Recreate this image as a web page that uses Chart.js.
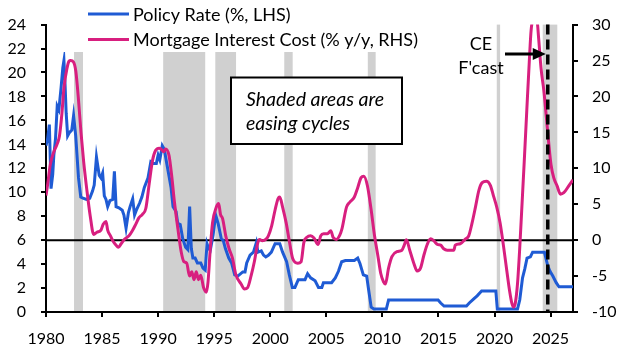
<!DOCTYPE html>
<html>
<head>
<meta charset="utf-8">
<script src="https://cdn.jsdelivr.net/npm/chart.js@4.4.1/dist/chart.umd.min.js"></script>
<style>
html,body{margin:0;padding:0;background:#fff;}
#wrap{width:636px;height:356px;}
</style>
</head>
<body>
<div id="wrap"><canvas id="c" width="636" height="356"></canvas></div>
<script>
// ---------- DATA ----------
const policyYears = [1980.0,1980.15,1980.3,1980.45,1980.6,1980.7,1980.85,1981.0,1981.15,1981.34,1981.5,1981.6,1981.7,1981.8,1981.93,1982.1,1982.3,1982.46,1982.65,1982.9,1983.1,1983.3,1983.6,1983.9,1984.15,1984.3,1984.5,1984.62,1984.75,1984.9,1985.05,1985.2,1985.35,1985.5,1985.7,1985.95,1986.1,1986.25,1986.5,1986.8,1986.95,1987.14,1987.35,1987.5,1987.73,1987.9,1988.1,1988.35,1988.55,1988.77,1989.1,1989.35,1989.6,1989.84,1990.0,1990.15,1990.37,1990.55,1990.73,1991.0,1991.15,1991.33,1991.6,1991.75,1991.97,1992.2,1992.45,1992.65,1992.81,1992.96,1993.1,1993.3,1993.5,1993.8,1994.0,1994.2,1994.36,1994.5,1994.65,1994.9,1995.13,1995.35,1995.64,1995.8,1996.0,1996.3,1996.55,1996.83,1997.1,1997.55,1997.75,1997.9,1998.2,1998.5,1998.76,1998.9,1999.2,1999.4,1999.6,1999.83,2000.1,2000.43,2000.85,2001.1,2001.46,2001.7,2001.97,2002.2,2002.5,2003.1,2003.33,2003.6,2004.0,2004.3,2004.6,2004.74,2005.47,2005.8,2006.08,2006.37,2006.7,2007.5,2007.8,2008.0,2008.3,2008.6,2008.75,2009.0,2009.25,2010.35,2010.55,2014.97,2015.2,2015.5,2017.5,2017.75,2018.15,2018.45,2018.85,2020.12,2020.25,2022.05,2022.25,2022.5,2022.7,2022.9,2023.2,2023.4,2024.45,2024.75,2024.95,2025.2,2025.5,2025.75,2027.0];
const policyRate = [13.9,14.5,15.65,10.3,11.5,13.1,14.5,17.2,16.9,18.7,20.4,21.0,19.0,16.6,14.7,15.0,15.2,16.4,14.7,11.2,9.6,9.5,9.4,9.5,10.1,10.6,12.95,12.2,11.4,11.2,11.6,9.7,9.4,8.8,9.3,9.4,11.75,8.8,8.7,8.5,8.1,7.0,8.3,8.8,9.45,8.1,8.6,9.1,9.6,10.4,11.2,12.55,12.4,12.4,13.1,12.7,13.9,13.6,12.6,11.2,10.4,8.8,8.4,7.4,7.3,6.1,5.4,5.2,8.8,5.3,4.5,4.5,4.1,4.1,3.66,3.5,5.7,5.3,5.15,6.4,8.1,7.4,6.1,6.0,5.3,4.5,4.1,3.1,3.0,3.35,3.35,4.1,4.75,5.0,5.8,5.0,5.1,4.75,4.6,4.74,5.0,5.7,5.7,5.0,4.2,3.1,2.05,2.05,2.7,2.7,3.2,2.85,2.6,2.05,2.05,2.45,2.45,2.85,3.4,4.2,4.3,4.3,4.5,4.05,3.1,3.0,2.0,0.4,0.25,0.25,1.0,1.0,0.75,0.5,0.5,0.75,1.1,1.35,1.75,1.75,0.25,0.25,1.0,2.85,3.6,4.5,4.6,5.0,5.0,3.85,3.4,3.0,2.45,2.1,2.1];

const micYears = [1980.0,1980.15,1980.38,1980.7,1981.0,1981.2,1981.42,1981.6,1981.87,1982.05,1982.2,1982.45,1982.66,1982.9,1983.12,1983.36,1983.65,1983.95,1984.25,1984.54,1984.9,1985.1,1985.35,1985.5,1985.75,1986.0,1986.24,1986.45,1986.7,1986.98,1987.4,1987.7,1988.0,1988.28,1988.6,1988.9,1989.2,1989.5,1989.78,1990.1,1990.3,1990.5,1990.67,1990.97,1991.2,1991.47,1991.77,1992.06,1992.3,1992.55,1992.8,1993.0,1993.2,1993.4,1993.6,1993.8,1994.05,1994.3,1994.45,1994.65,1994.85,1995.19,1995.4,1995.56,1995.75,1996.03,1996.33,1996.63,1996.93,1997.4,1997.7,1997.98,1998.3,1998.58,1998.9,1999.05,1999.3,1999.6,1999.83,2000.12,2000.43,2000.7,2000.85,2001.1,2001.42,2001.72,2002.0,2002.45,2002.75,2003.0,2003.27,2003.6,2003.9,2004.27,2004.5,2004.77,2005.1,2005.4,2005.6,2005.9,2006.2,2006.4,2006.8,2007.1,2007.5,2007.8,2008.1,2008.35,2008.66,2009.0,2009.3,2009.6,2009.85,2010.1,2010.27,2010.55,2010.85,2011.3,2011.74,2011.95,2012.14,2012.44,2012.8,2013.1,2013.4,2013.7,2014.0,2014.3,2014.6,2014.9,2015.2,2015.47,2015.77,2016.07,2016.37,2016.5,2016.95,2017.4,2017.7,2018.0,2018.3,2018.6,2018.9,2019.28,2019.64,2019.9,2020.2,2020.5,2020.8,2021.1,2021.34,2021.55,2021.7,2021.85,2022.05,2022.23,2022.44,2022.65,2022.88,2023.1,2023.27,2023.55,2023.8,2023.94,2024.15,2024.4,2024.62,2024.83,2025.04,2025.28,2025.58,2025.88,2026.18,2026.62,2027.0];
const micRate = [6.2,7.8,10.5,12.3,13.4,14.5,17.65,21.2,23.9,24.9,25.0,24.8,23.5,19.5,15.0,10.9,6.9,3.3,0.8,1.1,1.4,2.2,2.6,1.4,0.6,-0.2,-0.67,-1.0,-0.5,0.1,0.6,1.3,2.2,3.1,3.6,4.4,7.8,11.1,12.5,12.8,12.6,12.3,12.7,11.8,9.1,5.1,1.5,-1.65,-3.0,-3.2,-5.0,-4.4,-5.5,-4.4,-5.5,-4.9,-6.6,-7.25,-5.8,-1.2,2.4,4.6,5.1,3.6,3.0,0.6,-1.2,-2.5,-4.8,-6.1,-6.8,-6.6,-4.9,-3.0,-0.3,0.1,-0.1,0.1,0.6,1.95,4.2,5.8,6.0,4.6,2.4,-0.3,-2.55,-3.2,-3.0,-0.3,0.4,0.6,0.3,-0.6,0.6,0.9,0.9,1.3,0.4,0.1,0.7,1.6,4.6,5.3,6.0,7.3,8.7,8.9,7.6,4.2,0.6,-2.2,-4.6,-5.8,-6.1,-3.9,-2.3,-1.6,-1.4,-0.7,0.06,-1.4,-3.2,-4.3,-3.9,-2.1,-0.6,0.2,-0.1,-0.6,-0.7,-1.2,-1.4,-1.4,-1.4,-0.7,-0.5,0.15,0.6,2.4,4.6,6.9,8.0,8.2,7.6,6.2,4.6,2.4,-0.8,-4.3,-7.0,-8.8,-9.3,-8.8,-6.1,-1.65,4.6,10.9,18.1,24.8,29.3,31.0,30.5,28.0,23.9,20.8,17.2,13.6,10.5,8.7,7.55,6.4,6.6,7.55,8.4];

const easingStart = [1982.5, 1990.45, 1995.1, 2001.25, 2008.7, 2020.2, 2024.3];
const easingEnd   = [1983.3, 1994.2, 1996.95, 2002.0, 2009.4, 2020.5, 2025.6];

const xTicks = [1980,1985,1990,1995,2000,2005,2010,2015,2020,2025];
const leftTicks = [0,2,4,6,8,10,12,14,16,18,20,22,24];
const rightTicks = [-10,-5,0,5,10,15,20,25,30];

const seriesNames = ['Policy Rate (%, LHS)', 'Mortgage Interest Cost (% y/y, RHS)'];
const forecastYear = 2024.75;
const zeroLineLeft = 6;

// ---------- STYLE ----------
const BLUE = '#1f5bd4';
const PINK = '#d81f7f';
const GREY = '#d0d0d0';
const FONT = 'Lato';

const toPts = (xs, ys) => xs.map((x, i) => ({x: x, y: ys[i]}));

const overlay = {
  id: 'overlay',
  beforeDatasetsDraw(chart) {
    const {ctx, chartArea: ca, scales} = chart;
    const x = scales.x, yL = scales.yL;
    ctx.save();
    ctx.fillStyle = GREY;
    for (let i = 0; i < easingStart.length; i++) {
      const x0 = x.getPixelForValue(easingStart[i]);
      const x1 = x.getPixelForValue(easingEnd[i]);
      ctx.fillRect(x0, ca.top, x1 - x0, ca.bottom - ca.top - 1);
    }
    const y6 = yL.getPixelForValue(zeroLineLeft);
    ctx.strokeStyle = '#000';
    ctx.lineWidth = 2;
    ctx.beginPath();
    ctx.moveTo(ca.left, y6);
    ctx.lineTo(ca.right, y6);
    ctx.stroke();
    ctx.restore();
  },
  afterDatasetsDraw(chart) {
    const {ctx, chartArea: ca, scales} = chart;
    const x = scales.x;
    ctx.save();
    // forecast dashed line
    const fx = x.getPixelForValue(forecastYear);
    ctx.strokeStyle = '#000';
    ctx.lineWidth = 3.5;
    ctx.setLineDash([10, 5]);
    ctx.beginPath();
    ctx.moveTo(fx, ca.top);
    ctx.lineTo(fx, ca.bottom);
    ctx.stroke();
    ctx.setLineDash([]);

    // legend box
    ctx.fillStyle = '#fff';
    ctx.fillRect(60, 0, 385, 52);
    const legY = [14, 39.5];
    const legCol = [BLUE, PINK];
    ctx.font = '18px ' + FONT;
    ctx.textBaseline = 'middle';
    ctx.textAlign = 'left';
    for (let i = 0; i < 2; i++) {
      ctx.strokeStyle = legCol[i];
      ctx.lineWidth = 3;
      ctx.beginPath();
      ctx.moveTo(88, legY[i]);
      ctx.lineTo(129, legY[i]);
      ctx.stroke();
      ctx.fillStyle = '#000';
      ctx.fillText(seriesNames[i], 133, legY[i] + 1);
    }

    // text box
    ctx.fillStyle = '#fff';
    ctx.fillRect(231, 77.5, 171, 66.5);
    ctx.strokeStyle = '#000';
    ctx.lineWidth = 2;
    ctx.strokeRect(231, 77.5, 171, 66.5);
    ctx.fillStyle = '#000';
    ctx.font = 'italic 19.5px ' + FONT;
    ctx.fillText('Shaded areas are', 246, 100);
    ctx.fillText('easing cycles', 246, 124);

    // CE F'cast label + arrow
    ctx.font = '18px ' + FONT;
    ctx.textAlign = 'center';
    ctx.fillText('CE', 481, 44);
    ctx.fillText("F'cast", 481, 68);
    const ay = 54;
    ctx.strokeStyle = '#000';
    ctx.lineWidth = 3;
    ctx.beginPath();
    ctx.moveTo(505, ay);
    ctx.lineTo(536, ay);
    ctx.stroke();
    ctx.fillStyle = '#000';
    ctx.beginPath();
    ctx.moveTo(fx - 2, ay);
    ctx.lineTo(fx - 15, ay - 6);
    ctx.lineTo(fx - 15, ay + 6);
    ctx.closePath();
    ctx.fill();
    ctx.restore();
  }
};

const tickFont = {family: FONT, size: 16};

new Chart(document.getElementById('c'), {
  type: 'line',
  data: {
    datasets: [
      {label: seriesNames[0], data: toPts(policyYears, policyRate), yAxisID: 'yL',
       borderColor: BLUE, borderWidth: 3, pointRadius: 0, tension: 0, order: 2},
      {label: seriesNames[1], data: toPts(micYears, micRate), yAxisID: 'yR',
       borderColor: PINK, borderWidth: 3, pointRadius: 0, cubicInterpolationMode: 'monotone', order: 1}
    ]
  },
  options: {
    responsive: false,
    animation: false,
    devicePixelRatio: 1,
    layout: {padding: {top: 15, left: 0, right: 0, bottom: 0}},
    plugins: {legend: {display: false}, tooltip: {enabled: false}},
    scales: {
      x: {
        type: 'linear', min: 1980, max: 2027,
        afterBuildTicks: s => { s.ticks = xTicks.map(v => ({value: v})); },
        afterFit: s => { s.height = 44; },
        grid: {drawOnChartArea: false, drawTicks: true, tickLength: 5, color: '#000', lineWidth: 2},
        border: {color: '#000', width: 2},
        ticks: {color: '#000', font: tickFont, padding: 12, maxRotation: 0, autoSkip: false,
                callback: v => String(v)}
      },
      yL: {
        position: 'left', min: 0, max: 24,
        afterBuildTicks: s => { s.ticks = leftTicks.map(v => ({value: v})); },
        afterFit: s => { s.width = 46; },
        grid: {drawOnChartArea: false, drawTicks: true, tickLength: 5, color: '#000', lineWidth: 2},
        border: {color: '#000', width: 2},
        ticks: {color: '#000', font: tickFont, padding: 15, autoSkip: false}
      },
      yR: {
        position: 'right', min: -10, max: 30,
        afterBuildTicks: s => { s.ticks = rightTicks.map(v => ({value: v})); },
        afterFit: s => { s.width = 63; },
        grid: {drawOnChartArea: false, drawTicks: true, tickLength: 5, color: '#000', lineWidth: 2},
        border: {color: '#000', width: 2},
        ticks: {color: '#000', font: tickFont, padding: 14, autoSkip: false}
      }
    }
  },
  plugins: [overlay]
});
</script>
</body>
</html>
